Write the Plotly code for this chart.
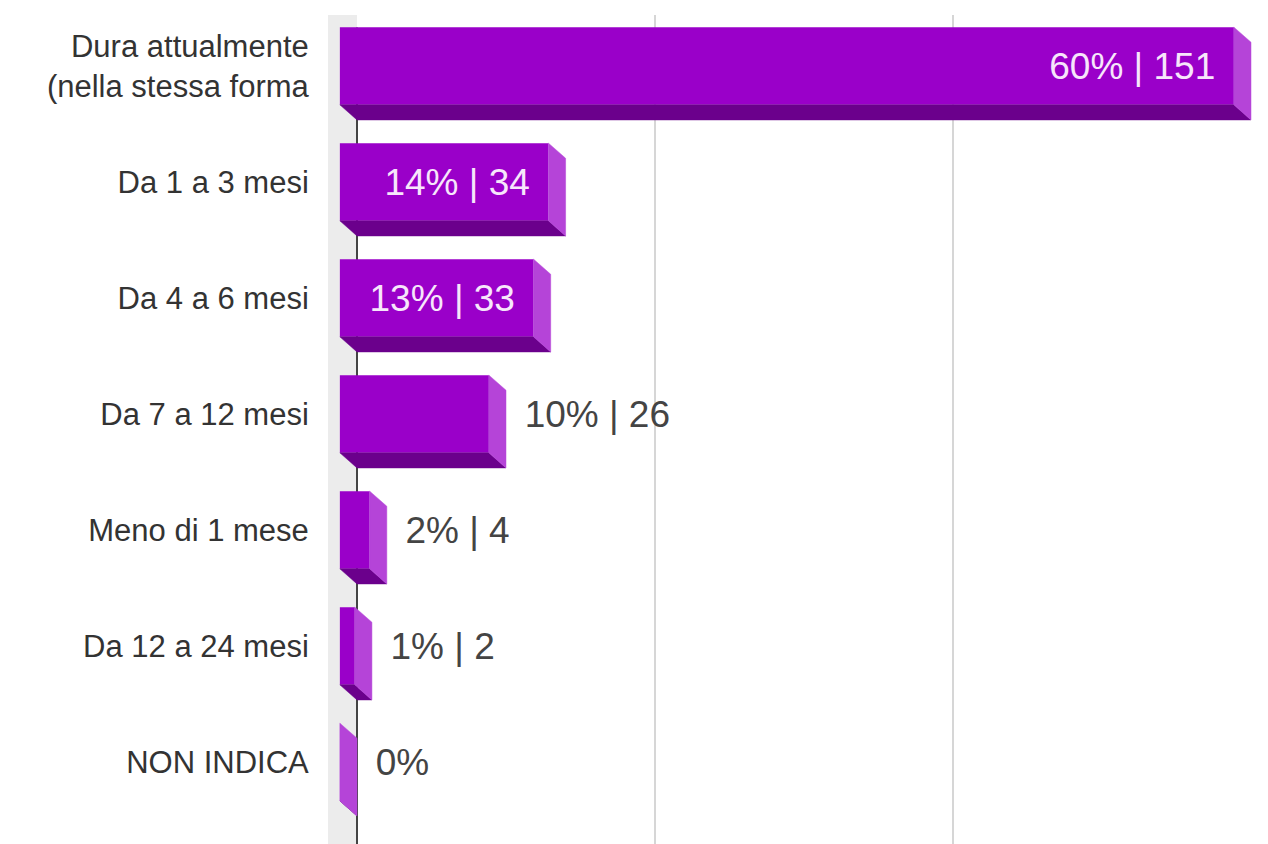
import plotly.graph_objects as go

# Data
categories = [
    "Dura attualmente<br>(nella stessa forma",
    "Da 1 a 3 mesi",
    "Da 4 a 6 mesi",
    "Da 7 a 12 mesi",
    "Meno di 1 mese",
    "Da 12 a 24 mesi",
    "NON INDICA",
]
percents = [60, 14, 13, 10, 2, 1, 0]
counts = [151, 34, 33, 26, 4, 2, 0]

# 3D look (in axis units)
DX = 1.15      # depth along x (%)
DY = 0.13      # depth along y (rows)
BAR_W = 0.67
PAD = 1.25     # gap between bar end and value label (%)
TEXT_DY = 0.035

FRONT = "#9a00c9"
BOTTOM = "#6b008c"
SIDE = "#b544d8"

rows = list(range(len(categories)))
labels = [f"{p}% | {n}" if n > 0 else f"{p}%" for p, n in zip(percents, counts)]
inside = [p >= 12 for p in percents]

fig = go.Figure()

# front faces
fig.add_trace(go.Bar(
    y=rows, x=percents, base=[-DX] * len(rows), orientation="h",
    width=BAR_W, marker=dict(color=FRONT, line=dict(width=0)),
    hoverinfo="skip",
))

# bottom and side faces
bx, by, sx, sy = [], [], [], []
for r, v in zip(rows, percents):
    yt, yb = r - BAR_W / 2, r + BAR_W / 2
    x0, x1 = -DX, v - DX
    bx += [x0, x1, x1 + DX, x0 + DX, x0, None]
    by += [yb, yb, yb + DY, yb + DY, yb, None]
    sx += [x1, x1 + DX, x1 + DX, x1, x1, None]
    sy += [yt, yt + DY, yb + DY, yb, yt, None]

fig.add_trace(go.Scatter(x=bx, y=by, mode="lines", fill="toself", fillcolor=BOTTOM,
                         line=dict(color=BOTTOM, width=0.5), hoverinfo="skip"))
fig.add_trace(go.Scatter(x=sx, y=sy, mode="lines", fill="toself", fillcolor=SIDE,
                         line=dict(color=SIDE, width=0.5), hoverinfo="skip"))

# value labels
in_r = [r + TEXT_DY for r, f in zip(rows, inside) if f]
in_x = [v - DX - PAD for v, f in zip(percents, inside) if f]
in_t = [t for t, f in zip(labels, inside) if f]
out_r = [r + TEXT_DY for r, f in zip(rows, inside) if not f]
out_x = [v + PAD for v, f in zip(percents, inside) if not f]
out_t = [t for t, f in zip(labels, inside) if not f]

fig.add_trace(go.Scatter(x=in_x, y=in_r, mode="text", text=in_t, textposition="middle left",
                         textfont=dict(family="Liberation Sans", size=37, color="#f7e6fb"),
                         hoverinfo="skip"))
fig.add_trace(go.Scatter(x=out_x, y=out_r, mode="text", text=out_t, textposition="middle right",
                         textfont=dict(family="Liberation Sans", size=37, color="#444444"),
                         hoverinfo="skip"))

# page has an 8px body margin: plot area spans x 328..1268, y 15..844 on screen
x_min = -29 / 14.9
fig.update_layout(
    width=1260, height=836,
    margin=dict(l=320, r=0, t=7, b=0),
    paper_bgcolor="white", plot_bgcolor="white",
    showlegend=False,
    font=dict(family="Liberation Sans", color="#333333"),
    xaxis=dict(range=[x_min, 911 / 14.9], tickvals=[20, 40], showticklabels=False,
               showgrid=True, gridcolor="#d6d6d6", gridwidth=2, zeroline=False,
               showline=False, fixedrange=True),
    yaxis=dict(range=[(844 - 66) / 116, (15 - 66) / 116], tickvals=rows, ticktext=categories,
               showgrid=False, zeroline=False, showline=False,
               ticks="outside", ticklen=12, tickcolor="rgba(0,0,0,0)",
               tickfont=dict(size=31, color="#333333")),
    shapes=[
        dict(type="rect", xref="x", yref="paper", x0=x_min, x1=0, y0=0, y1=1,
             fillcolor="#ececec", line=dict(width=0), layer="below"),
        dict(type="line", xref="x", yref="paper", x0=0, x1=0, y0=0, y1=0.985,
             line=dict(color="#444444", width=2), layer="below"),
    ],
)

fig.write_html("out.html")
